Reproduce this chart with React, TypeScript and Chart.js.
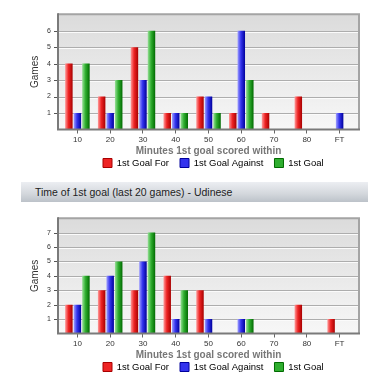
import React, { useEffect, useRef } from "react";
import { Chart, registerables } from "chart.js";

Chart.register(...registerables);

// ---------- data ----------
const categories = ["10", "20", "30", "40", "50", "60", "70", "80", "FT"];
const seriesNames = ["1st Goal For", "1st Goal Against", "1st Goal"];

const chart1For = [4, 2, 5, 1, 2, 1, 1, 2, 0];
const chart1Against = [1, 1, 3, 1, 2, 6, 0, 0, 1];
const chart1Goal = [4, 3, 6, 1, 1, 3, 0, 0, 0];
const chart1Max = 7;

const chart2For = [2, 3, 3, 4, 3, 0, 0, 2, 1];
const chart2Against = [2, 4, 5, 1, 1, 1, 0, 0, 0];
const chart2Goal = [4, 5, 7, 3, 0, 1, 0, 0, 0];
const chart2Max = 8;

const headerTitle = "Time of 1st goal (last 20 games) - Udinese";
const yTitle = "Games";
const xTitle = "Minutes 1st goal scored within";

// ---------- styles ----------
const FONT = "'Liberation Sans', Arial, Helvetica, sans-serif";
const palettes = [
  ["#ff9c9c", "#ee2424", "#a80000"],
  ["#a0a0ff", "#3434ee", "#00009c"],
  ["#98e098", "#2fae2f", "#006a00"],
];
const CAT_PCT = 0.78;
const BAR_PCT = 0.88;
const LEGEND_FONT = 9.5;
const LEGEND_PAD = 11;
const LEGEND_BOX = 9;
const LEGEND_X = 103;
const LEGEND_Y = 163;
const FRAME_EXT = 3;

Chart.defaults.font.family = FONT;

function barColor(ctx: any) {
  const pal = palettes[ctx.datasetIndex] || palettes[0];
  if (ctx.type !== "data") return pal[1];
  const chart = ctx.chart;
  const xs = chart.scales && chart.scales.x;
  if (!xs || !chart.chartArea) return pal[1];
  const catW = xs.width / categories.length;
  const c = xs.getPixelForValue(ctx.dataIndex);
  const group = catW * CAT_PCT;
  const slot = group / 3;
  const cx = c - group / 2 + slot * (ctx.datasetIndex + 0.5);
  const w = slot * BAR_PCT;
  const g = chart.ctx.createLinearGradient(cx - w / 2, 0, cx + w / 2, 0);
  g.addColorStop(0, pal[0]);
  g.addColorStop(0.45, pal[1]);
  g.addColorStop(1, pal[2]);
  return g;
}

const framePlugin = {
  id: "frame",
  afterLayout(chart: any) {
    const lg = chart.legend;
    if (!lg || !lg.lineWidths) return;
    const pad = LEGEND_PAD;
    const start = (lg.left + pad + lg.right - lg.lineWidths[0]) / 2;
    const dx = LEGEND_X - start;
    lg.left += dx;
    lg.right += dx;
    const itemH = Math.max(LEGEND_FONT, LEGEND_BOX);
    const dy = LEGEND_Y - (lg.top + pad + itemH / 2);
    lg.top += dy;
    lg.bottom += dy;
  },
  beforeDatasetsDraw(chart: any) {
    const { ctx, chartArea: a, scales } = chart;
    const L = a.left - FRAME_EXT;
    const R = a.right + FRAME_EXT;
    ctx.save();
    const bg = ctx.createLinearGradient(0, a.top, 0, a.bottom);
    bg.addColorStop(0, "#dbdbdb");
    bg.addColorStop(1, "#f7f7f7");
    ctx.fillStyle = bg;
    ctx.fillRect(L, a.top, R - L, a.bottom - a.top);
    const ys = scales.y;
    const max = ys.max;
    ys.ticks.forEach((t: any) => {
      if (t.value <= 0 || t.value >= max) return;
      const y = Math.round(ys.getPixelForValue(t.value)) + 0.5;
      ctx.lineWidth = 1;
      ctx.strokeStyle = "#adadad";
      ctx.beginPath();
      ctx.moveTo(L, y);
      ctx.lineTo(R, y);
      ctx.stroke();
      ctx.strokeStyle = "#fbfbfb";
      ctx.beginPath();
      ctx.moveTo(L, y + 1);
      ctx.lineTo(R, y + 1);
      ctx.stroke();
      ctx.strokeStyle = "#555";
      ctx.beginPath();
      ctx.moveTo(L - 4, y);
      ctx.lineTo(L, y);
      ctx.stroke();
    });
    ctx.restore();
  },
  afterDatasetsDraw(chart: any) {
    const { ctx, chartArea: a } = chart;
    const L = a.left - FRAME_EXT;
    const R = a.right + FRAME_EXT;
    ctx.save();
    ctx.lineWidth = 2;
    ctx.strokeStyle = "#a4a4a4";
    ctx.beginPath();
    ctx.moveTo(L, a.top);
    ctx.lineTo(R, a.top);
    ctx.lineTo(R, a.bottom);
    ctx.stroke();
    ctx.strokeStyle = "#7a7a7a";
    ctx.beginPath();
    ctx.moveTo(L, a.top - 1);
    ctx.lineTo(L, a.bottom);
    ctx.lineTo(R + 1, a.bottom);
    ctx.stroke();
    ctx.restore();
  },
};

function GoalChart(props: { forData: number[]; againstData: number[]; goalData: number[]; yMax: number }) {
  const ref = useRef<HTMLCanvasElement | null>(null);
  useEffect(() => {
    if (!ref.current) return;
    const { forData, againstData, goalData, yMax } = props;
    const chart = new Chart(ref.current, {
      type: "bar",
      data: {
        labels: categories,
        datasets: [forData, againstData, goalData].map((d, i) => ({
          label: seriesNames[i],
          data: d,
          backgroundColor: barColor as any,
          borderWidth: 0,
          categoryPercentage: CAT_PCT,
          barPercentage: BAR_PCT,
        })),
      },
      options: {
        animation: false,
        responsive: false,
        devicePixelRatio: 1,
        layout: { padding: { left: 0, right: 32, top: 13, bottom: 0 } },
        plugins: {
          legend: {
            position: "bottom",
            labels: {
              boxWidth: LEGEND_BOX,
              boxHeight: LEGEND_BOX,
              padding: LEGEND_PAD,
              color: "#111",
              font: { size: LEGEND_FONT },
              generateLabels: (ch: any) =>
                ch.data.datasets.map((ds: any, i: number) => ({
                  text: ds.label,
                  fillStyle: palettes[i][1],
                  strokeStyle: palettes[i][2],
                  lineWidth: 1,
                  datasetIndex: i,
                  hidden: false,
                })),
            },
          },
          tooltip: { enabled: false },
        },
        scales: {
          x: {
            offset: true,
            grid: {
              display: true,
              drawOnChartArea: false,
              drawTicks: true,
              tickLength: 4,
              offset: false,
              color: "#666",
              tickColor: "#666",
            },
            border: { display: false },
            ticks: { color: "#333", font: { size: 8 }, padding: 1, maxRotation: 0, autoSkip: false },
            title: {
              display: true,
              text: xTitle,
              color: "#777",
              font: { size: 10, weight: "bold" },
              padding: { top: 0, bottom: 0 },
            },
            afterFit: (s: any) => {
              s.height = 28;
            },
          },
          y: {
            min: 0,
            max: yMax,
            grid: { display: false, drawTicks: false },
            border: { display: false },
            ticks: {
              stepSize: 1,
              color: "#333",
              font: { size: 7 },
              padding: 10,
              callback: (v: any) => (v <= 0 || v >= yMax ? "" : String(v)),
            },
            title: {
              display: true,
              text: yTitle,
              color: "#333",
              font: { size: 10 },
              padding: { top: 29, bottom: 0 },
            },
            afterFit: (s: any) => {
              s.width = 61;
            },
          },
        },
      },
      plugins: [framePlugin],
    } as any);
    return () => chart.destroy();
  }, []);
  return <canvas ref={ref} width={388} height={188} style={{ display: "block", width: 388, height: 188 }} />;
}

export default function App() {
  return (
    <div
      style={{
        position: "fixed",
        left: 0,
        top: 0,
        width: 388,
        height: 382,
        overflow: "hidden",
        background: "#fff",
        fontFamily: FONT,
      }}
    >
      <div style={{ position: "absolute", left: 0, top: 0 }}>
        <GoalChart forData={chart1For} againstData={chart1Against} goalData={chart1Goal} yMax={chart1Max} />
      </div>
      <div
        style={{
          position: "absolute",
          left: 21,
          top: 182,
          width: 347,
          height: 20,
          boxSizing: "border-box",
          paddingLeft: 14,
          lineHeight: "20px",
          fontSize: 10.5,
          color: "#222",
          background: "linear-gradient(to bottom, #eceef2 0%, #d3d7dc 60%, #bcc2c9 100%)",
          whiteSpace: "nowrap",
        }}
      >
        {headerTitle}
      </div>
      <div style={{ position: "absolute", left: 0, top: 204 }}>
        <GoalChart forData={chart2For} againstData={chart2Against} goalData={chart2Goal} yMax={chart2Max} />
      </div>
    </div>
  );
}
